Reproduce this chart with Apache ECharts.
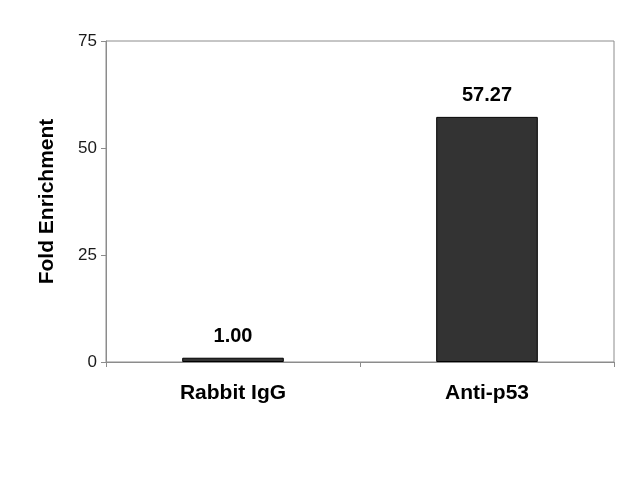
<!DOCTYPE html>
<html>
<head>
    <meta charset="utf-8">
    <title>Fold Enrichment</title>
    <script type="text/javascript" src="https://cdn.jsdelivr.net/npm/echarts@6/dist/echarts.min.js"></script>
</head>
<body style="margin:0;">
<div id="main" style="width:640px;height:480px;"></div>
<script type="text/javascript">
    // data
    var categories = ['Rabbit IgG', 'Anti-p53'];
    var foldValues = [1.00, 57.27];
    var yTicks = [0, 25, 50, 75];

    var myChart = echarts.init(document.getElementById('main'));
    myChart.setOption({
        backgroundColor: '#fff',
        textStyle: {fontFamily: 'Liberation Sans, Arial, sans-serif'},
        grid: {
            left: 106, right: 26, top: 41, bottom: 118,
            show: true,
            borderColor: '#8c8c8c',
            borderWidth: 1
        },
        xAxis: {
            type: 'category',
            data: categories,
            axisLine: {lineStyle: {color: '#8c8c8c', width: 1}},
            axisTick: {show: true, length: 5, lineStyle: {color: '#8c8c8c'}},
            axisLabel: {
                margin: 21,
                color: '#000',
                fontSize: 21,
                fontWeight: 'bold'
            }
        },
        yAxis: {
            type: 'value',
            min: yTicks[0],
            max: yTicks[yTicks.length - 1],
            interval: 25,
            name: 'Fold Enrichment',
            nameLocation: 'middle',
            nameGap: 48,
            nameTextStyle: {color: '#000', fontSize: 21, fontWeight: 'bold'},
            axisLine: {show: true, lineStyle: {color: '#8c8c8c', width: 1}},
            axisTick: {show: true, length: 5, lineStyle: {color: '#8c8c8c'}},
            axisLabel: {margin: 9, color: '#1a1a1a', fontSize: 17},
            splitLine: {show: false}
        },
        series: [{
            type: 'bar',
            data: foldValues,
            barWidth: '40%',
            itemStyle: {color: '#333333', borderColor: '#000', borderWidth: 1},
            label: {
                show: true,
                position: 'top',
                distance: 11,
                color: '#000',
                fontSize: 20,
                fontWeight: 'bold',
                formatter: function (p) { return p.value.toFixed(2); }
            }
        }]
    });
</script>
</body>
</html>
